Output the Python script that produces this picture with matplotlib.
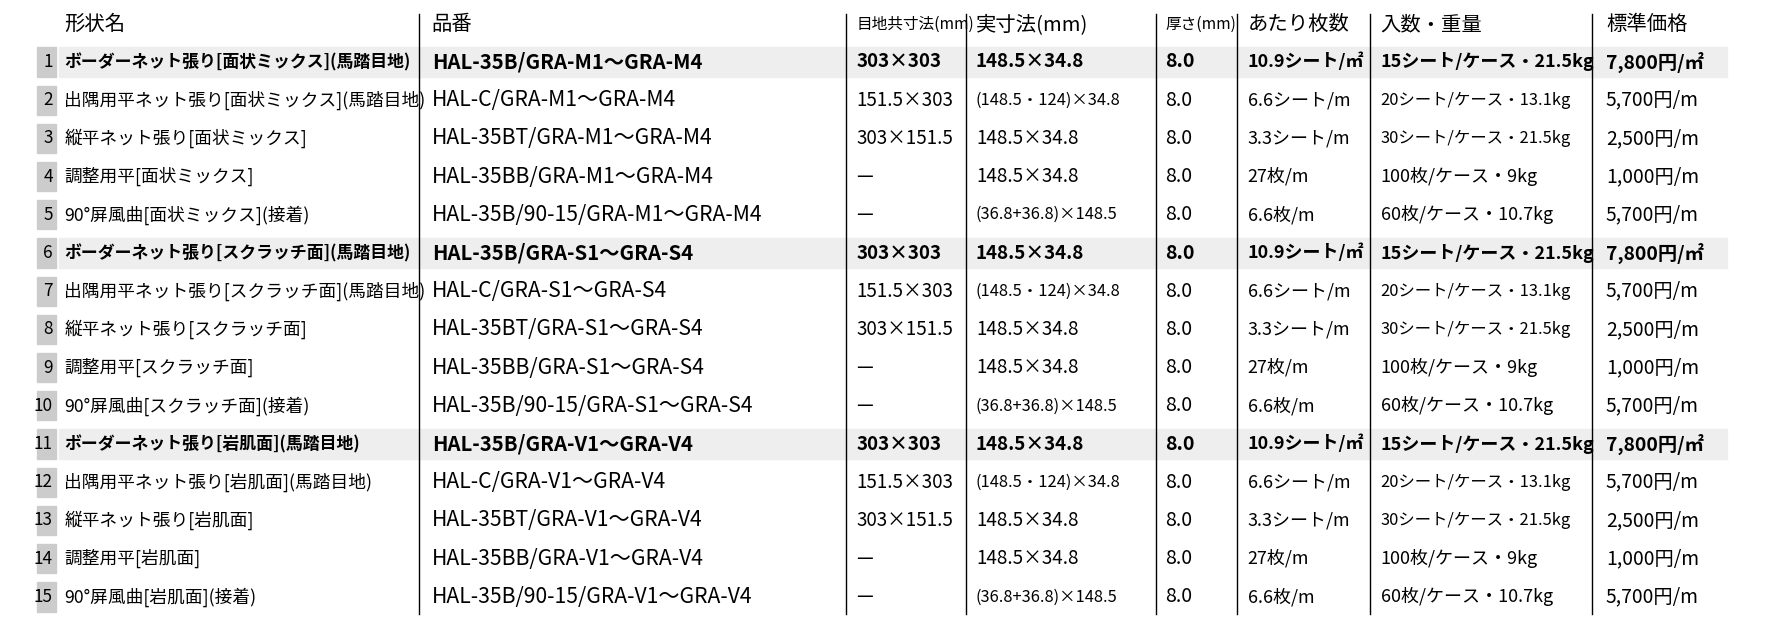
import matplotlib.pyplot as plt
from matplotlib.patches import Rectangle

plt.rcParams['font.family'] = ['Noto Sans CJK JP', 'DejaVu Sans']

headers = ["形状名", "品番", "目地共寸法(mm)", "実寸法(mm)", "厚さ(mm)", "あたり枚数", "入数・重量", "標準価格"]
kinds = ["面状ミックス", "スクラッチ面", "岩肌面"]
codes = ["M", "S", "V"]

names = []
parts = []
for k, c in zip(kinds, codes):
    names += ["ボーダーネット張り[%s](馬踏目地)" % k, "出隅用平ネット張り[%s](馬踏目地)" % k,
              "縦平ネット張り[%s]" % k, "調整用平[%s]" % k, "90°屏風曲[%s](接着)" % k]
    r = "GRA-%s1～GRA-%s4" % (c, c)
    parts += ["HAL-35B/" + r, "HAL-C/" + r, "HAL-35BT/" + r, "HAL-35BB/" + r, "HAL-35B/90-15/" + r]

joint = ["303×303", "151.5×303", "303×151.5", "—", "—"] * 3
actual = ["148.5×34.8", "(148.5・124)×34.8", "148.5×34.8", "148.5×34.8", "(36.8+36.8)×148.5"] * 3
thick = ["8.0"] * 15
count = ["10.9シート/㎡", "6.6シート/m", "3.3シート/m", "27枚/m", "6.6枚/m"] * 3
pack = ["15シート/ケース・21.5kg", "20シート/ケース・13.1kg", "30シート/ケース・21.5kg", "100枚/ケース・9kg", "60枚/ケース・10.7kg"] * 3
price = ["7,800円/㎡", "5,700円/m", "2,500円/m", "1,000円/m", "5,700円/m"] * 3

W, H = 1766, 634
S = 1.127  # layout below is measured on a 0.887-scaled view
fig = plt.figure(figsize=(W / 100, H / 100), dpi=100)
ax = fig.add_axes([0, 0, 1, 1])
ax.set_xlim(0, W / S)
ax.set_ylim(H / S, 0)
ax.axis('off')

col_x = [57, 383, 760, 866, 1034, 1107, 1225, 1425]
lines_x = [372, 751, 857, 1026, 1098, 1216, 1413]
y0, dy = 55, 33.9
hy = 22

for x in lines_x:
    ax.plot([x, x], [12, 545], color='black', lw=1)

for j, h in enumerate(headers):
    fs = 10 if j in (2, 4) else 13
    ax.text(col_x[j], hy, h, fontsize=fs * S, va='center', ha='left')

for i in range(15):
    y = y0 + i * dy
    bold = (i % 5 == 0)
    if bold:
        ax.add_patch(Rectangle((52, y - 13), 1480, 26, color='#eeeeee', zorder=0))
    ax.add_patch(Rectangle((33, y - 13), 17, 26, color='#cccccc', zorder=0))
    ax.text(47, y, str(i + 1), fontsize=11 * S, ha='right', va='center')
    w = 'bold' if bold else 'normal'
    row = [names[i], parts[i], joint[i], actual[i], thick[i], count[i], pack[i], price[i]]
    sizes = [10.8 if bold else 11.3, 13 if bold else 13.5, 12, 12, 12.5, 11.5, 10.3, 12.3]
    for j, v in enumerate(row):
        fs = sizes[j]
        if j == 3 and v.startswith("("):
            fs = 10.5
        if j == 6 and not bold and v[0] in "23":
            fs = 10.5
        if j == 6 and v[0] in "16":
            fs = 11.5
        ax.text(col_x[j], y, v, fontsize=fs * S, fontweight=w, va='center', ha='left')

fig.savefig("out.png", dpi=100)
